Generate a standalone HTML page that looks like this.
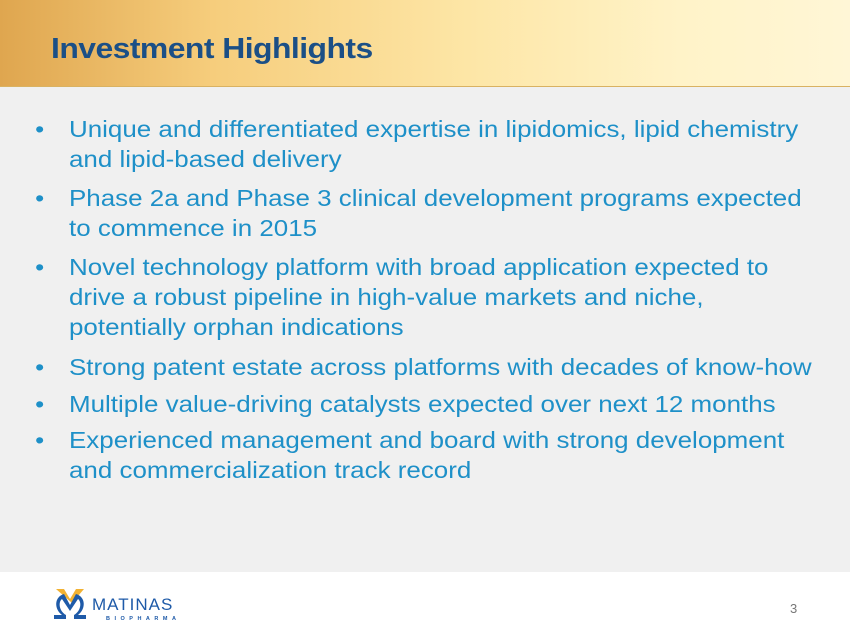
<!DOCTYPE html>
<html><head><style>
body{margin:0;width:850px;height:638px;overflow:hidden;font-family:"Liberation Sans",sans-serif;background:#fff;position:relative}
.hdr{position:absolute;left:0;top:0;width:850px;height:86px;background:linear-gradient(90deg,#dfa64f 0%,#f6cd7c 25%,#fde6a6 55%,#fff3c8 80%,#fff6d6 100%);border-bottom:1px solid #d9b262}
.title{position:absolute;left:51px;top:33px;font-size:29px;font-weight:bold;color:#1b4f86;letter-spacing:-0.5px;transform:scaleX(1.1);transform-origin:left}
.body{position:absolute;left:0;top:87px;width:850px;height:485px;background:#f0f0f0}
.b{position:absolute;left:69px;font-size:23px;line-height:30px;color:#1e90c8;white-space:nowrap;transform:scaleX(1.128);transform-origin:left}
.b:before{content:"•";position:absolute;left:-30px}
.num{position:absolute;left:790px;top:601px;font-size:13px;color:#777}
</style></head><body>
<div class="hdr"></div>
<div class="title">Investment Highlights</div>
<div class="body"></div>
<div class="b" style="top:114px">Unique and differentiated expertise in lipidomics, lipid chemistry<br>and lipid-based delivery</div>
<div class="b" style="top:183px">Phase 2a and Phase 3 clinical development programs expected<br>to commence in 2015</div>
<div class="b" style="top:252px">Novel technology platform with broad application expected to<br>drive a robust pipeline in high-value markets and niche,<br>potentially orphan indications</div>
<div class="b" style="top:352px">Strong patent estate across platforms with decades of know-how</div>
<div class="b" style="top:389px">Multiple value-driving catalysts expected over next 12 months</div>
<div class="b" style="top:425px">Experienced management and board with strong development<br>and commercialization track record</div>
<svg style="position:absolute;left:50px;top:585px" width="140" height="40">
<path d="M6 4 L14 4 L20 14 L26 4 L34 4 L22 18 Z" fill="#f2b233"/>
<path d="M4 30 L12 30 C4 24 4 12 14 9 L20 20 L26 9 C36 12 36 24 28 30 L36 30 L36 34 L24 34 L24 30 C31 26 32 17 28 14 L20 26 L12 14 C8 17 9 26 16 30 L16 34 L4 34 Z" fill="#1e5aa8"/>
<text x="42" y="25" font-family="Liberation Sans" font-size="17" fill="#1e5aa8" letter-spacing="1">MATINAS</text>
<text x="56" y="35" font-family="Liberation Sans" font-size="5.5" font-weight="bold" fill="#1e5aa8" letter-spacing="4.5">BIOPHARMA</text>
</svg>
<div class="num">3</div>
</body></html>
